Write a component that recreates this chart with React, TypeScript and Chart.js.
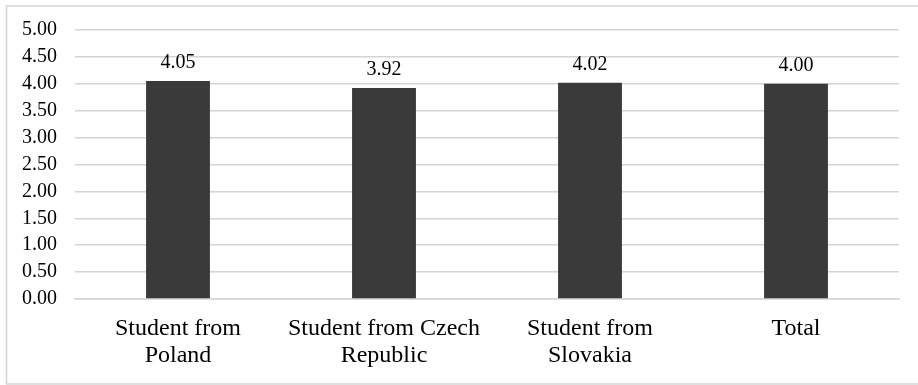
import React, { useEffect, useRef } from "react";
import { Chart, registerables } from "chart.js";

Chart.register(...registerables);

const categories: (string | string[])[] = [
  ["Student from", "Poland"],
  ["Student from Czech", "Republic"],
  ["Student from", "Slovakia"],
  "Total",
];
const meanScores = [4.05, 3.92, 4.02, 4.0];
const yMin = 0;
const yMax = 5;
const yStep = 0.5;

const FONT = '"Liberation Serif", "Times New Roman", Times, serif';

// Light frame around the figure (open on the right, like a cropped outline)
const framePlugin = {
  id: "frame",
  beforeDraw(chart: any) {
    const { ctx } = chart;
    ctx.save();
    ctx.strokeStyle = "#d4d4d4";
    ctx.lineWidth = 1.5;
    ctx.beginPath();
    ctx.moveTo(918, 6);
    ctx.lineTo(6.5, 6);
    ctx.lineTo(6.5, 384);
    ctx.lineTo(918, 384);
    ctx.stroke();
    ctx.restore();
  },
};

// Value labels above each bar
const valueLabels = {
  id: "valueLabels",
  afterDatasetsDraw(chart: any) {
    const { ctx } = chart;
    const meta = chart.getDatasetMeta(0);
    const data = chart.data.datasets[0].data as number[];
    ctx.save();
    ctx.font = `20px ${FONT}`;
    ctx.fillStyle = "#000";
    ctx.textAlign = "center";
    ctx.textBaseline = "middle";
    meta.data.forEach((bar: any, i: number) => {
      ctx.fillText(data[i].toFixed(2), bar.x, bar.y - 18);
    });
    ctx.restore();
  },
};

export default function App() {
  const ref = useRef<HTMLCanvasElement>(null);

  useEffect(() => {
    if (!ref.current) return;
    let chart: Chart | null = null;
    let cancelled = false;
    const build = () => {
      if (cancelled || !ref.current) return;
      chart = new Chart(ref.current, {
        type: "bar",
        data: {
          labels: categories,
          datasets: [
            {
              data: meanScores,
              backgroundColor: "#3a3a3a",
              borderWidth: 0,
              categoryPercentage: 1,
              barPercentage: 0.31,
            },
          ],
        },
        options: {
          responsive: false,
          animation: false,
          layout: { padding: { top: 24, right: 19, bottom: 0, left: 0 } },
          plugins: { legend: { display: false }, tooltip: { enabled: false } },
          scales: {
            x: {
              grid: { display: false },
              border: { color: "#d4d4d4", width: 1.5 },
              ticks: {
                color: "#000",
                font: { family: FONT, size: 24, lineHeight: 1.12 },
                padding: 8,
                maxRotation: 0,
                autoSkip: false,
              },
              afterFit(scale: any) {
                scale.height = 86;
              },
            },
            y: {
              min: yMin,
              max: yMax,
              grid: { color: "#d4d4d4", lineWidth: 1.5, drawTicks: false },
              border: { display: false },
              ticks: {
                stepSize: yStep,
                autoSkip: false,
                color: "#000",
                font: { family: FONT, size: 20 },
                padding: 18,
                callback: (v: any) => Number(v).toFixed(2),
              },
              afterFit(scale: any) {
                scale.width = 75;
              },
            },
          },
        },
        plugins: [framePlugin, valueLabels],
      });
    };
    const fonts = (document as any).fonts;
    if (fonts && fonts.load) {
      fonts.load(`20px "Liberation Serif"`).then(build, build);
    } else {
      build();
    }
    return () => {
      cancelled = true;
      if (chart) chart.destroy();
    };
  }, []);

  return (
    <div style={{ position: "fixed", left: 0, top: 0, width: 918, height: 385, background: "#fff" }}>
      <canvas ref={ref} width={918} height={385} style={{ display: "block" }} />
    </div>
  );
}
